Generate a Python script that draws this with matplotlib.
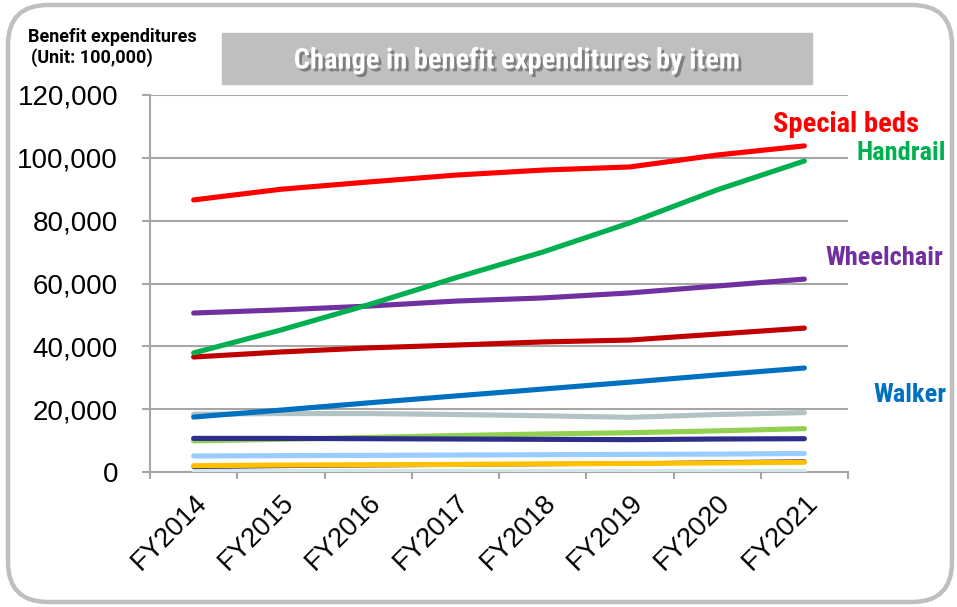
import matplotlib
matplotlib.use("Agg")
import matplotlib.pyplot as plt
import matplotlib.patheffects as pe
from matplotlib.patches import FancyBboxPatch, Rectangle

years = ["FY2014", "FY2015", "FY2016", "FY2017", "FY2018", "FY2019", "FY2020", "FY2021"]

# benefit expenditures, unit: 100,000
special_beds = [86600, 90000, 92300, 94500, 96100, 97100, 100900, 103800]
handrails = [37900, 45200, 53200, 61800, 70000, 79300, 89800, 99000]
wheelchairs = [50600, 51600, 52800, 54400, 55400, 57000, 59200, 61400]
dark_red_item = [36600, 38200, 39500, 40400, 41400, 42000, 43900, 45800]
walkers = [17500, 19700, 22000, 24200, 26400, 28600, 30900, 33100]
gray_item = [18400, 18600, 18600, 18300, 17900, 17400, 18300, 18900]
light_green_item = [9900, 10400, 11000, 11600, 12100, 12500, 13100, 13800]
navy_item = [10700, 10700, 10600, 10500, 10400, 10300, 10500, 10600]
light_blue_item = [5100, 5200, 5300, 5400, 5500, 5600, 5700, 5900]
dark_item = [1600, 1900, 2100, 2300, 2500, 2700, 3100, 3400]
yellow_item = [2000, 2200, 2300, 2400, 2600, 2700, 2900, 3100]
cyan_item = [450, 450, 450, 450, 450, 450, 450, 450]

series = [
    (cyan_item, "#D3E6EA"),
    (dark_item, "#1F1F66"),
    (yellow_item, "#FFC000"),
    (light_blue_item, "#99CCFF"),
    (light_green_item, "#92D050"),
    (navy_item, "#2E2E8A"),
    (gray_item, "#B3C2C2"),
    (walkers, "#0070C0"),
    (dark_red_item, "#C00000"),
    (wheelchairs, "#7030A0"),
    (handrails, "#00B050"),
    (special_beds, "#FF0000"),
]

narrow = ["Roboto Condensed", "Roboto", "DejaVu Sans"]
plt.rcParams["font.family"] = ["Liberation Sans", "DejaVu Sans"]

fig = plt.figure(figsize=(9.57, 6.07), dpi=100)
ax = fig.add_axes([150 / 957, 1 - 472 / 607, 698 / 957, 377 / 607])

x = list(range(len(years)))
for vals, col in series:
    lw = 3.0 if col == "#1F1F66" else 3.7
    ax.plot(x, vals, color=col, lw=lw, solid_capstyle="round", zorder=3)

ax.set_xlim(-0.5, len(years) - 0.5)
ax.set_ylim(0, 120000)
ax.set_yticks(range(0, 120001, 20000))
ax.set_yticklabels([f"{v:,}" for v in range(0, 120001, 20000)], fontsize=20)
ax.yaxis.grid(True, color="#A6A6A6", lw=1.5, zorder=1)
ax.tick_params(axis="y", length=6, width=1.5, color="#A6A6A6", pad=17)

ax.set_xticks(x)
ax.set_xticklabels(years, rotation=45, ha="right", va="top",
                   rotation_mode="anchor", fontsize=19.5)
ax.set_xticks([i - 0.5 for i in range(len(years) + 1)], minor=True)
ax.tick_params(axis="x", which="major", length=0, pad=13)
ax.tick_params(axis="x", which="minor", length=5, width=1.5, color="#A6A6A6")

for side in ["top", "right"]:
    ax.spines[side].set_visible(False)
for side in ["left", "bottom"]:
    ax.spines[side].set_color("#A6A6A6")
    ax.spines[side].set_linewidth(1.5)

# rounded outer frame
frame = FancyBboxPatch((0.08, 0.05), 9.44, 5.97, boxstyle="round,pad=0,rounding_size=0.4",
                       transform=fig.dpi_scale_trans, fill=False,
                       edgecolor="#BFBFBF", lw=3.2, zorder=10)
fig.patches.append(frame)

# title banner
fig.patches.append(Rectangle((222 / 957, 1 - 84 / 607), 590 / 957, 51 / 607,
                             transform=fig.transFigure, color="#BFBFBF", zorder=1))
fig.text(518 / 957, 1 - 61 / 607, "Change in benefit expenditures by item",
         ha="center", va="center", color="white", fontsize=20.5, fontweight="bold",
         family=narrow, zorder=2,
         path_effects=[pe.SimplePatchShadow(offset=(2, -2), shadow_rgbFace="#6A6A6A", alpha=0.75),
                       pe.Normal()])

fig.text(28 / 957, 1 - 37 / 607, "Benefit expenditures", ha="left", va="center",
         fontsize=13, fontweight="bold", family=["Roboto", "DejaVu Sans"])
fig.text(31 / 957, 1 - 58 / 607, "(Unit: 100,000)", ha="left", va="center",
         fontsize=13, fontweight="bold", family=["Roboto", "DejaVu Sans"])

# series labels at the right
labels = [
    ("Special beds", 773, 125, "#FF0000", 20.5),
    ("Handrail", 857, 153, "#00B050", 19),
    ("Wheelchair", 825, 258, "#7030A0", 19),
    ("Walker", 873, 395, "#0070C0", 19),
]
for txt, px, py, col, fs in labels:
    fig.text(px / 957, 1 - py / 607, txt, ha="left", va="center", color=col,
             fontsize=fs, fontweight="bold", family=narrow)

fig.savefig("out.png", dpi=100, facecolor="white")
